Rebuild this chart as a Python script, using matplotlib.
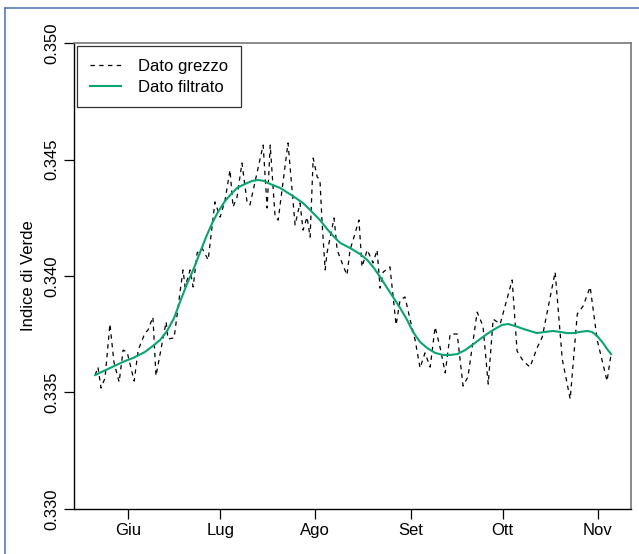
import numpy as np
import matplotlib
matplotlib.use("Agg")
import matplotlib.pyplot as plt
import matplotlib.dates as mdates
from matplotlib.lines import Line2D

plt.rcParams['font.family'] = ['Liberation Sans', 'DejaVu Sans']

# Day offsets from 1 June and index values
raw_day = [-10.7, -9.8, -8.8, -7.5, -5.9, -4.6, -2.9, -1.6, -0.3, 2.0, 3.3, 5.5, 6.5, 8.1, 9.1,
           12.4, 13.0, 15.0, 16.6, 17.9, 18.6, 20.2, 21.2, 22.5, 24.1, 26.1, 28.3, 30.0, 31.6,
           33.2, 34.2, 35.5, 37.1, 38.8, 39.7, 44.0, 45.3, 46.3, 47.9, 48.9, 52.1, 54.4, 56.0,
           57.0, 58.3, 59.3, 60.3, 61.6, 62.5, 63.2, 64.2, 64.8, 67.1, 68.1, 69.7, 71.3, 72.3,
           73.3, 75.2, 76.2, 77.9, 79.8, 81.1, 82.1, 83.1, 85.3, 87.3, 88.6, 90.2, 91.9, 93.5,
           95.1, 96.7, 98.4, 100.0, 101.6, 103.3, 104.9, 107.2, 109.1, 110.7, 113.7, 115.6,
           117.3, 118.9, 121.2, 125.1, 126.7, 128.7, 130.9, 133.2, 134.9, 139.1, 141.4, 144.0,
           146.3, 148.2, 150.5, 152.8, 156.0, 157.3]
raw_val = [0.33575, 0.33609, 0.33519, 0.33562, 0.33794, 0.33631, 0.33545, 0.33682, 0.33674,
           0.33549, 0.33682, 0.33755, 0.33768, 0.33824, 0.33571, 0.33803, 0.33730, 0.33734,
           0.33897, 0.34026, 0.33953, 0.34026, 0.33953, 0.34099, 0.34120, 0.34069, 0.34318,
           0.34253, 0.34326, 0.34455, 0.34296, 0.34339, 0.34485, 0.34313, 0.34305, 0.34562,
           0.34292, 0.34562, 0.34253, 0.34240, 0.34571, 0.34219, 0.34313, 0.34197, 0.34253,
           0.34167, 0.34506, 0.34425, 0.34412, 0.34227, 0.34026, 0.34099, 0.34249, 0.34112,
           0.34056, 0.34004, 0.34112, 0.34155, 0.34240, 0.34039, 0.34112, 0.34056, 0.34112,
           0.33948, 0.34017, 0.34039, 0.33790, 0.33897, 0.33910, 0.33811, 0.33725, 0.33605,
           0.33670, 0.33609, 0.33781, 0.33695, 0.33584, 0.33751, 0.33751, 0.33528, 0.33567,
           0.33845, 0.33785, 0.33536, 0.33815, 0.33794, 0.33983, 0.33678, 0.33635, 0.33609,
           0.33691, 0.33738, 0.34017, 0.33644, 0.33472, 0.33837, 0.33871, 0.33953, 0.33725,
           0.33549, 0.33665]

filt_day = [-10.7, -5.9, -1.0, 1.6, 5.5, 8.1, 10.4, 12.7, 15.0, 16.9, 19.2, 21.2, 23.5, 25.4,
            27.4, 29.3, 31.6, 33.6, 35.5, 38.1, 40.4, 42.3, 44.3, 46.3, 49.5, 53.7, 57.0, 59.3,
            62.5, 64.8, 66.8, 69.1, 72.3, 75.6, 77.9, 79.8, 82.1, 84.4, 86.3, 88.6, 90.9, 92.8,
            95.1, 97.4, 100.0, 102.6, 104.9, 107.2, 109.8, 112.1, 114.7, 116.9, 119.5, 121.8,
            123.8, 126.1, 128.7, 130.9, 133.2, 135.8, 138.4, 140.7, 143.0, 145.0, 147.2, 149.5,
            151.1, 152.8, 154.7, 156.0, 157.3]
filt_val = [0.33575, 0.33605, 0.33635, 0.33648, 0.33674, 0.33700, 0.33725, 0.33764, 0.33820,
            0.33888, 0.33966, 0.34026, 0.34103, 0.34167, 0.34227, 0.34275, 0.34322, 0.34352,
            0.34378, 0.34395, 0.34408, 0.34412, 0.34408, 0.34395, 0.34378, 0.34343, 0.34313,
            0.34283, 0.34240, 0.34202, 0.34172, 0.34142, 0.34120, 0.34094, 0.34069, 0.34039,
            0.33996, 0.33948, 0.33910, 0.33863, 0.33811, 0.33760, 0.33717, 0.33691, 0.33670,
            0.33661, 0.33661, 0.33665, 0.33682, 0.33704, 0.33730, 0.33751, 0.33773, 0.33790,
            0.33794, 0.33785, 0.33773, 0.33764, 0.33755, 0.33760, 0.33764, 0.33760, 0.33755,
            0.33755, 0.33760, 0.33764, 0.33760, 0.33742, 0.33712, 0.33687, 0.33665]

month_labels = ['Giu', 'Lug', 'Ago', 'Set', 'Ott', 'Nov']
y_ticks = [0.330, 0.335, 0.340, 0.345, 0.350]

base = np.datetime64('2013-06-01T00:00')
def to_dates(days):
    return base + (np.array(days) * 24 * 60).astype('timedelta64[m]')

fig = plt.figure(figsize=(6.39, 5.54), dpi=100)
ax = fig.add_axes([74/639, 1-509/554, (631-74)/639, (509-43)/554])

ax.plot(to_dates(raw_day), raw_val, color='black', lw=0.9, ls=(0, (3.5, 3.5)), label='Dato grezzo')
ax.plot(to_dates(filt_day), filt_val, color='#0aa56e', lw=1.5, label='Dato filtrato')

ax.set_xlim(to_dates([-17.6])[0], to_dates([163.8])[0])
ax.set_ylim(0.330, 0.350)
ax.set_yticks(y_ticks)
ax.set_yticklabels(['%.3f' % v for v in y_ticks], rotation=90, va='center')
ax.xaxis.set_major_locator(mdates.MonthLocator(bymonth=[6, 7, 8, 9, 10, 11]))
ax.set_xticklabels(month_labels)
ax.tick_params(axis='both', direction='out', length=7, width=0.9, labelsize=12)
ax.tick_params(axis='x', pad=3)
ax.tick_params(axis='y', pad=3.5)
ax.set_ylabel('Indice di Verde', fontsize=12, labelpad=6)

for s in ['left', 'bottom']:
    ax.spines[s].set_color('black')
    ax.spines[s].set_linewidth(1.0)
for s in ['top', 'right']:
    ax.spines[s].set_color('#777777')
    ax.spines[s].set_linewidth(1.2)

leg = ax.legend(loc='upper left', fontsize=12, frameon=True, fancybox=False,
                edgecolor='black', borderpad=0.75, handlelength=1.9, handletextpad=1.0,
                labelspacing=0.35, borderaxespad=0.2)
leg.get_frame().set_linewidth(0.9)

# light blue outer frame (left and top edges)
fig.add_artist(Line2D([4.5/639, 4.5/639], [0, 1-8/554], transform=fig.transFigure,
                      color='#5a78b8', lw=1.2))
fig.add_artist(Line2D([4.5/639, 1], [1-8/554, 1-8/554], transform=fig.transFigure,
                      color='#5a78b8', lw=1.2))

fig.savefig('out.png', dpi=100)
